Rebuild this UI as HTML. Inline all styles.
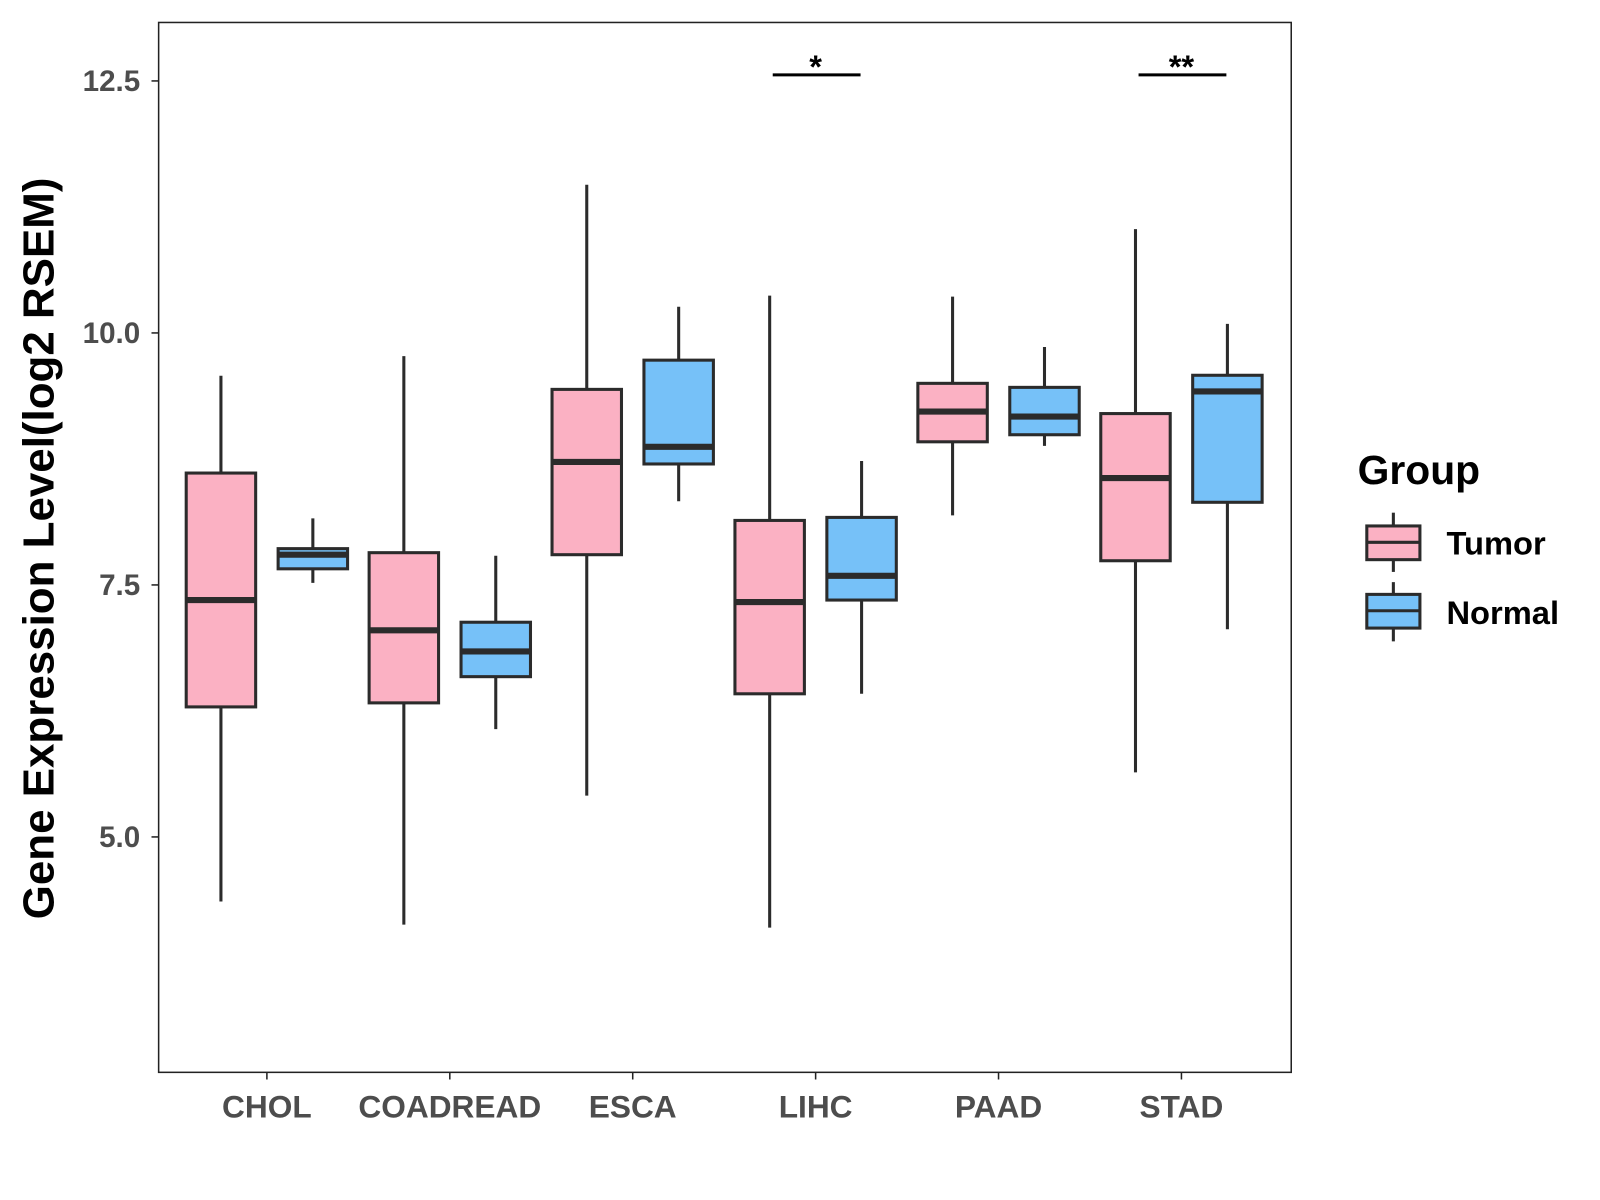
<!DOCTYPE html>
<html><head><meta charset="utf-8"><style>
body{margin:0;background:#fff;}
svg{display:block;font-family:"Liberation Sans",Arial,sans-serif;font-weight:bold;}
</style></head><body>
<svg id="chart" width="1600" height="1200" viewBox="0 0 1566 1175">
<rect x="155" y="22" width="1109" height="1028" fill="#fff" stroke="#222" stroke-width="1.5"/>
<g id="marks"></g>
<text transform="translate(52,537) rotate(-90)" text-anchor="middle" font-size="43" fill="#000">Gene Expression Level(log2 RSEM)</text>
<g>
<text x="1329" y="474" font-size="40" fill="#000">Group</text>
<g>
<line x1="1364" y1="502" x2="1364" y2="560" stroke="#2b2b2b" stroke-width="3"/>
<rect x="1338" y="515" width="52" height="33" fill="#FBB1C3" stroke="#2b2b2b" stroke-width="3"/>
<line x1="1338" y1="531" x2="1390" y2="531" stroke="#2b2b2b" stroke-width="3"/>
<text x="1416" y="543" font-size="32" fill="#000">Tumor</text></g>
<g>
<line x1="1364" y1="570" x2="1364" y2="628" stroke="#2b2b2b" stroke-width="3"/>
<rect x="1338" y="582" width="52" height="33" fill="#76C1F8" stroke="#2b2b2b" stroke-width="3"/>
<line x1="1338" y1="598" x2="1390" y2="598" stroke="#2b2b2b" stroke-width="3"/>
<text x="1416" y="611" font-size="32" fill="#000">Normal</text></g>
</g>
</svg>
<script>
const categories=["CHOL","COADREAD","ESCA","LIHC","PAAD","STAD"];
const tumorStats=[[4.36,6.29,7.35,8.61,9.575],[4.13,6.33,7.05,7.82,9.77],[5.41,7.80,8.72,9.44,11.47],[4.10,6.42,7.33,8.14,10.37],[8.19,8.92,9.22,9.50,10.36],[5.64,7.74,8.56,9.20,11.03]];
const normalStats=[[7.52,7.66,7.80,7.86,8.16],[6.07,6.59,6.84,7.13,7.79],[8.33,8.70,8.87,9.73,10.26],[6.42,7.35,7.59,8.17,8.73],[8.88,8.99,9.17,9.46,9.86],[7.06,8.32,9.42,9.58,10.09]];
const yTicks=[5.0,7.5,10.0,12.5];
const yTickLabels=["5.0","7.5","10.0","12.5"];
const sigCategories=["LIHC","STAD"];
const sigLabels=["*","**"];
const sigLevel=12.56;
const NS="http://www.w3.org/2000/svg";
const svg=document.getElementById('chart');const g=document.getElementById('marks');
function y(v){return 326-(v-10)*98.7;}
function x(i){return 261+i*179.1;}
function mk(t,a,p){const e=document.createElementNS(NS,t);for(const k in a)e.setAttribute(k,a[k]);(p||g).appendChild(e);return e;}
yTicks.forEach((v,i)=>{
 const t=mk('line',{x1:148,x2:155,y1:y(v),y2:y(v),stroke:'#222','stroke-width':1.5});
 
 
 const l=mk('text',{x:137,y:y(v)+10,'text-anchor':'end','font-size':29,fill:'#4d4d4d'});l.textContent=yTickLabels[i];
 
 
});
categories.forEach((c,i)=>{
 mk('line',{x1:x(i),x2:x(i),y1:1050,y2:1057,stroke:'#222','stroke-width':1.5});
 const l=mk('text',{x:x(i),y:1094,'text-anchor':'middle','font-size':31,fill:'#4d4d4d'});l.textContent=c;
 
 
 [[tumorStats[i],-45,'#FBB1C3','tumor'],[normalStats[i],45,'#76C1F8','normal']].forEach(([s,o,f,n])=>{
  const cx=x(i)+o;
  const bg=mk('g',{});
  
  
  mk('line',{x1:cx,x2:cx,y1:y(s[0]),y2:y(s[4]),stroke:'#2b2b2b','stroke-width':3},bg);
  mk('rect',{x:cx-34,y:y(s[3]),width:68,height:y(s[1])-y(s[3]),fill:f,stroke:'#2b2b2b','stroke-width':3},bg);
  mk('line',{x1:cx-34,x2:cx+34,y1:y(s[2]),y2:y(s[2]),stroke:'#2b2b2b','stroke-width':6},bg);
 });
});
sigCategories.forEach((c,k)=>{
 const i=categories.indexOf(c);
 const ln=mk('line',{x1:x(i)-42,x2:x(i)+44,y1:y(sigLevel),y2:y(sigLevel),stroke:'#000','stroke-width':3});
 
 
 const t=mk('text',{x:x(i),y:y(sigLevel)+3,'text-anchor':'middle','font-size':32,fill:'#000'});t.textContent=sigLabels[k];
 
 
});
</script>
</body></html>
